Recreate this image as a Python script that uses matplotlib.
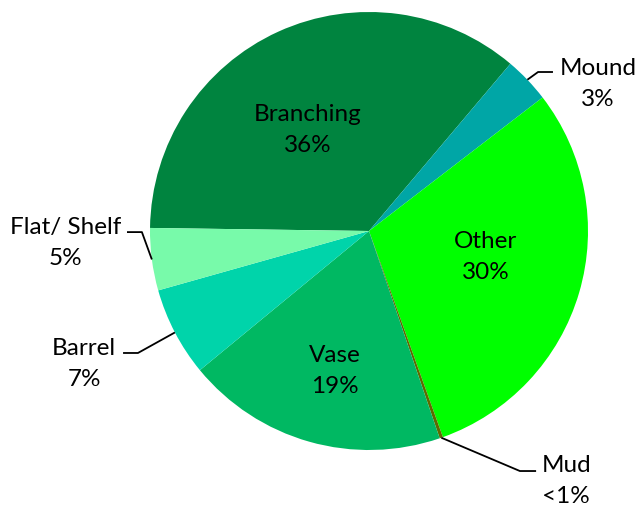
import matplotlib
matplotlib.use("Agg")
import matplotlib.pyplot as plt
import numpy as np

plt.rcParams['font.family'] = ['Lato', 'DejaVu Sans']

# Share of colonies by growth form (percent), clockwise order
categories = ["Branching", "Mound", "Other", "Mud", "Vase", "Barrel", "Flat/ Shelf"]
values = [36.0, 3.4, 30.0, 0.25, 19.3, 6.6, 4.6]
colors = ["#00843F", "#00A6A6", "#00FF00", "#5F6A00", "#00B862", "#00D4AA", "#78FAAA"]

def pct_text(v):
    return "<1%" if v < 1 else f"{round(v)}%"

W, H = 639, 506
fig = plt.figure(figsize=(W / 100, H / 100), dpi=100)
ax = fig.add_axes([0, 0, 1, 1])

# pie centre and radius in pixels; axes units are one radius
cx, cy, R = 369, 232, 219

wedges, _ = ax.pie(values, colors=colors, startangle=179.2, counterclock=False,
                   radius=1.0, center=(0, 0), wedgeprops=dict(linewidth=0))

ax.set_xlim(-cx / R, (W - cx) / R)
ax.set_ylim(-(H - cy) / R, cy / R)
ax.set_aspect('auto')
ax.axis('off')

fs = 17.5
ls = 1.55

# labels placed inside their slices
inside = {"Branching": (-0.279, 0.466), "Other": (0.534, -0.114), "Vase": (-0.155, -0.634)}
# labels outside the pie: (elbow, line end, text centre)
outside = {
    "Mound": ((0.772, 0.726), (0.840, 0.726), (1.046, 0.676)),
    "Flat/ Shelf": ((-1.037, -0.005), (-1.105, -0.005), (-1.384, -0.050)),
    "Barrel": ((-1.055, -0.557), (-1.123, -0.557), (-1.301, -0.602)),
    "Mud": ((0.689, -1.096), (0.763, -1.096), (0.900, -1.137)),
}

for w, name, v in zip(wedges, categories, values):
    label = f"{name}\n{pct_text(v)}"
    if name in inside:
        x, y = inside[name]
        ax.text(x, y, label, ha='center', va='center', fontsize=fs,
                linespacing=ls, color='black')
    else:
        elbow, end, txt = outside[name]
        mid = np.deg2rad((w.theta1 + w.theta2) / 2)
        sx, sy = np.cos(mid), np.sin(mid)
        ax.plot([sx, elbow[0], end[0]], [sy, elbow[1], end[1]],
                color='black', lw=1.3, solid_capstyle='butt')
        ax.text(txt[0], txt[1], label, ha='center', va='center', fontsize=fs,
                linespacing=ls, color='black')

fig.savefig("out.png", dpi=100)
